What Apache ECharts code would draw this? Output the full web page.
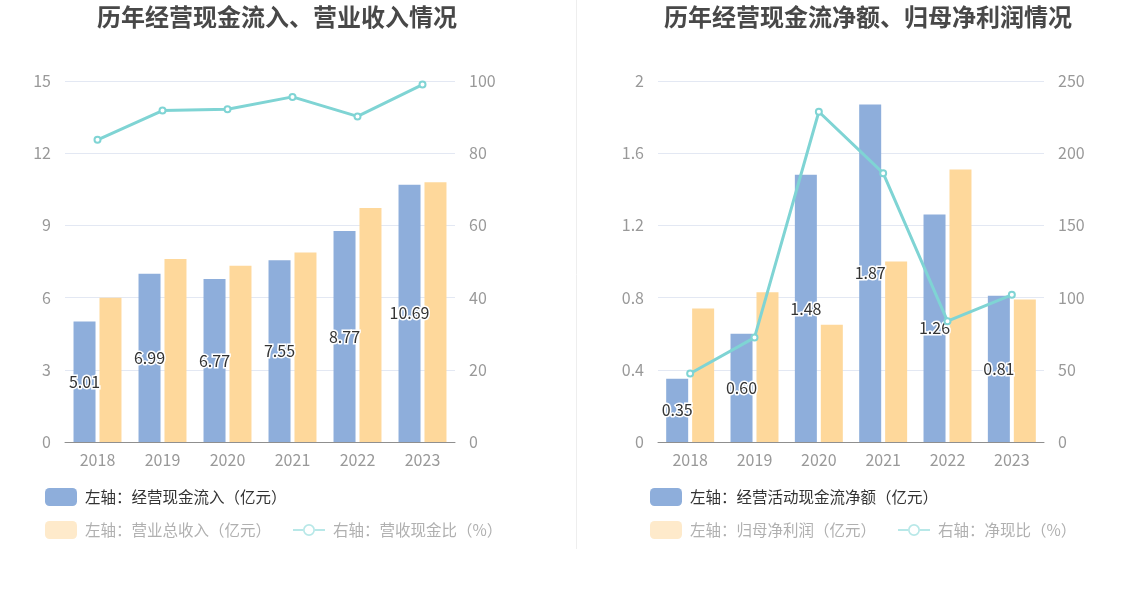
<!DOCTYPE html>
<html><head><meta charset="utf-8">
<script src="https://cdn.jsdelivr.net/npm/echarts@6/dist/echarts.min.js"></script>
<style>html,body{margin:0;padding:0;background:#fff}#c{width:1148px;height:589px}</style>
</head><body><div id="c"></div>
<script>
const years = ['2018','2019','2020','2021','2022','2023'];
// Left chart
const cashInflow = [5.01, 6.99, 6.77, 7.55, 8.77, 10.69];
const revenue = [5.99, 7.60, 7.32, 7.87, 9.72, 10.79];
const cashRevRatio = [83.7, 91.8, 92.2, 95.6, 90.2, 99.0];
// Right chart
const netCashFlow = [0.35, 0.60, 1.48, 1.87, 1.26, 0.81];
const netProfit = [0.74, 0.83, 0.65, 1.00, 1.51, 0.79];
const netCashRatio = [47.4, 72.3, 228.7, 186.2, 83.7, 101.9];

const leftTitle = '历年经营现金流入、营业收入情况';
const rightTitle = '历年经营现金流净额、归母净利润情况';
const n1 = '左轴：经营现金流入（亿元）', n2 = '左轴：营业总收入（亿元）', n3 = '右轴：营收现金比（%）';
const m1 = '左轴：经营活动现金流净额（亿元）', m2 = '左轴：归母净利润（亿元）', m3 = '右轴：净现比（%）';

const FONT = '"Noto Sans CJK SC", "Noto Sans", sans-serif';
const BLUE = '#8eaedb', ORANGE = '#fed89b', CYAN = '#7fd4d4';
const axisLbl = {color: '#999', fontSize: 16, fontFamily: FONT};
const splitLine = {lineStyle: {color: '#e3e8f3'}};

function xAx(gi){
  return {type:'category', gridIndex:gi, data: years,
    axisLine:{lineStyle:{color:'#8f8f8f'}}, axisTick:{alignWithLabel:true, lineStyle:{color:'#8f8f8f'}},
    axisLabel:Object.assign({margin:10}, axisLbl)};
}
function yAx(gi, max, interval, pos){
  return {type:'value', gridIndex:gi, min:0, max:max, interval:interval, position:pos,
    axisLine:{show:false}, axisTick:{show:false},
    axisLabel:Object.assign({margin:14}, axisLbl), splitLine: splitLine};
}
const barLabel = {show:true, position:'inside', color:'#333', fontSize:16, fontFamily:FONT,
  textBorderColor:'#fff', textBorderWidth:3, formatter: p => p.value.toFixed(2)};

function legendRow(left, top, items){
  return {left:left, top:top, itemWidth:32, itemHeight:18, itemGap:22, symbolKeepAspect:true,
    textStyle:{fontSize:15.5, fontFamily:FONT, color:'#333', padding:[0,0,0,3]}, data: items, selectedMode:false};
}
const fadedText = {color:'#b0b0b0', padding:[0,0,0,3]};
const RING_ICON = 'path://M0,5 L10,5 L10,7 L0,7 Z M22,5 L32,5 L32,7 L22,7 Z M16,0 A6,6 0 1 1 16,12 A6,6 0 1 1 16,0 Z M16,1.7 A4.3,4.3 0 1 0 16,10.3 A4.3,4.3 0 1 0 16,1.7 Z';
const lineLegend = name => ({name:name, icon:RING_ICON, itemStyle:{color:'#b8e8e8', borderWidth:0}, textStyle:fadedText});

const option = {
  animation:false,
  title:[
    {text:leftTitle, left:92, top:0, textStyle:{fontSize:24, fontWeight:'bold', color:'#484848', fontFamily:FONT}},
    {text:rightTitle, left:659, top:0, textStyle:{fontSize:24, fontWeight:'bold', color:'#484848', fontFamily:FONT}}
  ],
  legend:[
    legendRow(40, 483, [{name:n1, itemStyle:{color:BLUE, borderRadius:4}}]),
    legendRow(40, 516, [{name:n2, itemStyle:{color:'#feeacb', borderRadius:4}, textStyle:fadedText}, lineLegend(n3)]),
    legendRow(645, 483, [{name:m1, itemStyle:{color:BLUE, borderRadius:4}}]),
    legendRow(645, 516, [{name:m2, itemStyle:{color:'#feeacb', borderRadius:4}, textStyle:fadedText}, lineLegend(m3)])
  ],
  grid:[
    {left:65, right:693, top:81, bottom:147},
    {left:658, right:104, top:81, bottom:147}
  ],
  xAxis:[xAx(0), xAx(1)],
  yAxis:[yAx(0,15,3,'left'), yAx(0,100,20,'right'), yAx(1,2,0.4,'left'), yAx(1,250,50,'right')],
  graphic:[{type:'line', shape:{x1:576.5, y1:0, x2:576.5, y2:549}, style:{stroke:'#eeeeee', lineWidth:1}}],
  series:[
    {name:n1, type:'bar', xAxisIndex:0, yAxisIndex:0, data:cashInflow, barWidth:22, barGap:'18%', itemStyle:{color:BLUE}, label:barLabel, z:3},
    {name:n2, type:'bar', xAxisIndex:0, yAxisIndex:0, data:revenue, barWidth:22, barGap:'18%', itemStyle:{color:ORANGE}},
    {name:n3, type:'line', xAxisIndex:0, yAxisIndex:1, data:cashRevRatio, symbol:'emptyCircle', symbolSize:6,
      lineStyle:{color:CYAN, width:3}, itemStyle:{color:CYAN, borderWidth:2}, z:4},
    {name:m1, type:'bar', xAxisIndex:1, yAxisIndex:2, data:netCashFlow, barWidth:22, barGap:'18%', itemStyle:{color:BLUE}, label:barLabel, z:3},
    {name:m2, type:'bar', xAxisIndex:1, yAxisIndex:2, data:netProfit, barWidth:22, barGap:'18%', itemStyle:{color:ORANGE}},
    {name:m3, type:'line', xAxisIndex:1, yAxisIndex:3, data:netCashRatio, symbol:'emptyCircle', symbolSize:6,
      lineStyle:{color:CYAN, width:3}, itemStyle:{color:CYAN, borderWidth:2}, z:4}
  ]
};
const chart = echarts.init(document.getElementById('c'));
chart.setOption(option);
</script></body></html>
